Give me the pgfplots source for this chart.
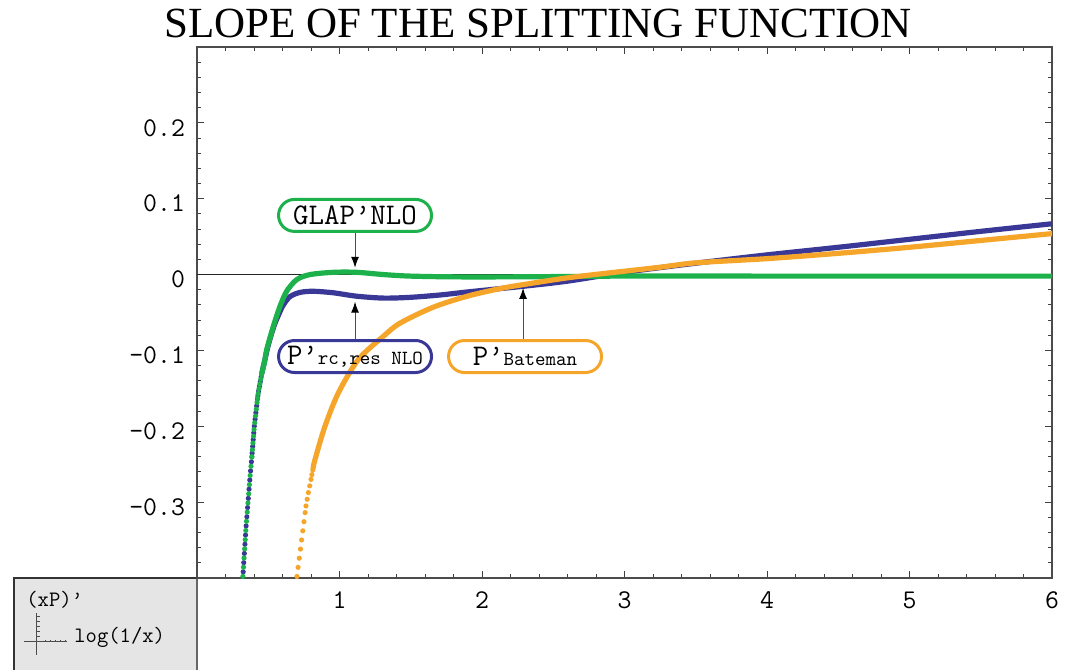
\documentclass[border=0pt]{standalone}
\usepackage{fontspec}
\setmainfont{Liberation Serif}
\usepackage{pgfplots}
\pgfplotsset{compat=1.18}
\usetikzlibrary{arrows.meta}
\definecolor{cgreen}{RGB}{29,177,76}
\definecolor{cblue}{RGB}{58,56,150}
\definecolor{corange}{RGB}{245,166,42}
\pgfplotsset{
  dotsA/.style={line width=2.6pt, line cap=round, dash pattern=on 0pt off 4.6pt},
  dotsB/.style={line width=2.6pt, line cap=round, dash pattern=on 0pt off 3.4pt},
  dotsC/.style={line width=2.6pt, line cap=round, dash pattern=on 0pt off 2.4pt},
  solidc/.style={line width=2.6pt, line cap=round, smooth},
}
\begin{document}
\begin{tikzpicture}
% corner legend box
\fill[black!10] (-91.5pt,-46pt) rectangle (0pt,0pt);
\draw[black!80, line width=0.6pt] (-91.5pt,-46pt) -- (-91.5pt,0pt) -- (0pt,0pt);
\draw[black!60, line width=0.8pt] (0pt,0pt) -- (0pt,-46pt);
\draw[black!70, line width=0.5pt] (-80.2pt,-17.5pt) -- (-80.2pt,-38.5pt);
\draw[black!70, line width=0.5pt] (-86.5pt,-31.8pt) -- (-65.2pt,-31.8pt);
\foreach \k in {1,...,5} {
  \draw[black!70, line width=0.4pt] (-80.2pt,{-31.8pt+\k*2.5pt}) -- ++(1.5pt,0);
  \draw[black!70, line width=0.4pt] ({-80.2pt+1.7pt+\k*2.5pt},-31.8pt) -- ++(0,1pt);
}
\node[anchor=base west, inner sep=0pt, font=\ttfamily\fontsize{11}{12}\selectfont] at (-85.5pt,-14.3pt) {(xP)’};
\node[anchor=base west, inner sep=0pt, font=\ttfamily\fontsize{11}{12}\selectfont] at (-61.5pt,-32.2pt) {log(1/x)};

\begin{axis}[at={(0pt,0pt)}, anchor=south west, scale only axis,
  width=427.5pt, height=265.5pt,
  xmin=0, xmax=6, ymin=-0.4, ymax=0.3,
  xtick={0,1,2,3,4,5,6}, xticklabels={,1,2,3,4,5,6},
  ytick={-0.4,-0.3,-0.2,-0.1,0,0.1,0.2,0.3},
  yticklabels={,-0.3,-0.2,-0.1,0,0.1,0.2,},
  minor x tick num=4, minor y tick num=4,
  tick align=inside, tick pos=both,
  xticklabel pos=lower, yticklabel pos=left,
  major tick length=3.5pt, minor tick length=2pt,
  every tick/.style={black!75, line width=0.5pt},
  axis line style={black!70, line width=0.8pt},
  tick label style={font=\ttfamily\fontsize{13.5}{13.5}\selectfont},
  xticklabel style={anchor=base, yshift=-15pt},
  yticklabel style={anchor=east, xshift=-2.5pt, yshift=-2.5pt},
]
\addplot[black!85, line width=0.5pt] coordinates {(0,0) (6,0)};
% P'rc,res NLO (blue)
\addplot[cblue, dotsA, dash phase=2.3pt] coordinates {(0.318,-0.41) (0.344,-0.333) (0.372,-0.267) (0.385,-0.24)};
\addplot[cblue, dotsB, dash phase=1.7pt] coordinates {(0.385,-0.24) (0.402,-0.200) (0.425,-0.163)};
\addplot[cblue, dotsC, dash phase=1.2pt] coordinates {(0.425,-0.163) (0.430,-0.156) (0.455,-0.130)};
\addplot[cblue, solidc] coordinates {
(0.455,-0.130) (0.477,-0.112) (0.50,-0.093) (0.54,-0.068) (0.575,-0.052) (0.606,-0.040)
(0.653,-0.029) (0.723,-0.0235) (0.816,-0.022) (0.957,-0.024) (1.12,-0.0285) (1.31,-0.031)
(1.495,-0.030) (1.70,-0.027) (1.893,-0.023) (2.10,-0.019) (2.29,-0.0154) (2.595,-0.0088)
(3.0,0.003) (3.5,0.015) (4.0,0.026) (4.5,0.036) (5.0,0.0465) (5.5,0.057) (6.0,0.067)};
% GLAP'NLO (green)
\addplot[cgreen, dotsA] coordinates {(0.318,-0.41) (0.344,-0.333) (0.372,-0.267) (0.385,-0.24)};
\addplot[cgreen, dotsB] coordinates {(0.385,-0.24) (0.402,-0.200) (0.425,-0.163)};
\addplot[cgreen, dotsC] coordinates {(0.425,-0.163) (0.430,-0.156) (0.455,-0.130)};
\addplot[cgreen, solidc] coordinates {
(0.455,-0.130) (0.477,-0.112) (0.489,-0.099) (0.536,-0.068) (0.582,-0.042) (0.629,-0.022)
(0.70,-0.0066) (0.793,0.000) (0.957,0.003) (1.12,0.003) (1.31,0.000) (1.495,-0.002)
(1.8,-0.003) (2.2,-0.003) (2.6,-0.0025) (3.0,-0.002) (4.0,-0.002) (5.0,-0.002) (6.0,-0.002)};
% P'Bateman (orange)
\addplot[corange, dotsA] coordinates {(0.693,-0.41) (0.746,-0.3325) (0.765,-0.305)};
\addplot[corange, dotsB] coordinates {(0.765,-0.305) (0.781,-0.288) (0.800,-0.270)};
\addplot[corange, dotsC] coordinates {(0.800,-0.270) (0.815,-0.255)};
\addplot[corange, solidc] coordinates {
(0.815,-0.255) (0.828,-0.244) (0.898,-0.200) (0.992,-0.156) (1.132,-0.112) (1.31,-0.081)
(1.425,-0.064) (1.658,-0.043) (1.893,-0.0287) (2.126,-0.0185) (2.29,-0.0132) (2.595,-0.0044)
(2.83,0.0009) (3.25,0.0097) (3.5,0.0155) (4.0,0.021) (4.5,0.028) (5.0,0.036) (5.5,0.045) (6.0,0.054)};

% labels
\node[draw=cgreen, line width=1.5pt, rounded corners=8pt, minimum width=76.5pt, minimum height=16pt, inner sep=0pt,
  font=\ttfamily\fontsize{15}{15}\selectfont] (g) at (axis cs:1.109,0.078) {GLAP’NLO};
\draw[black!70, line width=0.5pt, -{Latex[length=5.5pt,width=4pt,black]}] (g.south) -- (axis cs:1.109,0.009);
\node[draw=cblue, line width=1.5pt, rounded corners=8pt, minimum width=76.5pt, minimum height=16pt, inner sep=0pt,
  font=\ttfamily\fontsize{15}{15}\selectfont] (b) at (axis cs:1.109,-0.108) {P’{\fontsize{10}{10}\selectfont rc,res NLO}};
\draw[black!70, line width=0.5pt, -{Latex[length=5.5pt,width=4pt,black]}] (b.north) -- (axis cs:1.109,-0.0357);
\node[draw=corange, line width=1.5pt, rounded corners=8pt, minimum width=76.5pt, minimum height=16pt, inner sep=0pt,
  font=\ttfamily\fontsize{15}{15}\selectfont] (o) at (axis cs:2.302,-0.108) {P’{\fontsize{10}{10}\selectfont Bateman}};
\draw[black!70, line width=0.5pt, -{Latex[length=5.5pt,width=4pt,black]}] (axis cs:2.288,-0.0845) -- (axis cs:2.288,-0.0176);
\end{axis}

\node[anchor=base, inner sep=0pt, font=\fontsize{21.5}{22}\selectfont] at (170.5pt,270.3pt) {SLOPE OF THE SPLITTING FUNCTION};

\pgfresetboundingbox
\useasboundingbox (-98.5pt,-46pt) rectangle (435.5pt,289pt);
\end{tikzpicture}
\end{document}
